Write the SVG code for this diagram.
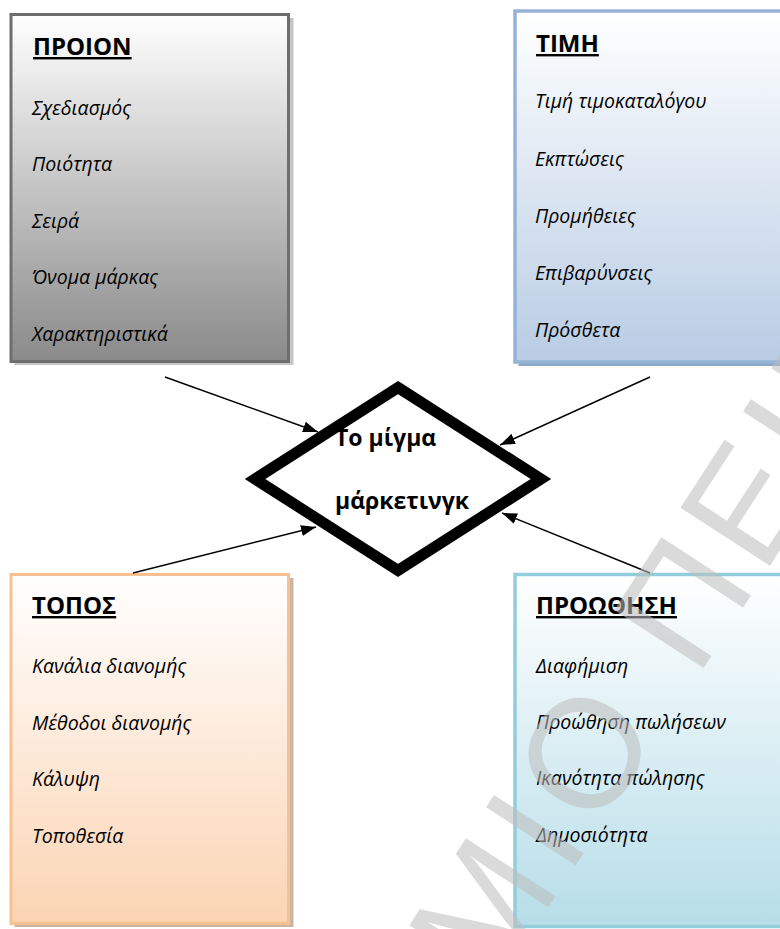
<svg xmlns="http://www.w3.org/2000/svg" width="780" height="929" viewBox="0 0 780 929">
  <style>
    .title { font-family: "Open Sans", "Noto Sans", sans-serif; font-weight: 700; font-size: 24px; text-decoration: underline; fill: #000; }
    .item { font-family: "Open Sans", "Noto Sans", sans-serif; font-style: italic; font-size: 19.5px; fill: #000; }
    .hub { font-family: "Open Sans", "Noto Sans", sans-serif; font-weight: 700; font-size: 23px; fill: #000; }
    .conn { stroke: #000; stroke-width: 1.4; fill: none; marker-end: url(#arrow); }
    .mark { font-family: "Liberation Sans", Arial, sans-serif; font-size: 155px; letter-spacing: 10px; fill: #bdbdbd; opacity: 0.55; }
  </style>
  <defs>
    <linearGradient id="gGray" x1="0" y1="0" x2="0" y2="1">
      <stop offset="0" stop-color="#ffffff"/>
      <stop offset="1" stop-color="#8a8a8a"/>
    </linearGradient>
    <linearGradient id="gBlue" x1="0" y1="0" x2="0" y2="1">
      <stop offset="0" stop-color="#ffffff"/>
      <stop offset="1" stop-color="#b8cce4"/>
    </linearGradient>
    <linearGradient id="gPeach" x1="0" y1="0" x2="0" y2="1">
      <stop offset="0" stop-color="#ffffff"/>
      <stop offset="1" stop-color="#fbd4b3"/>
    </linearGradient>
    <linearGradient id="gAqua" x1="0" y1="0" x2="0" y2="1">
      <stop offset="0" stop-color="#ffffff"/>
      <stop offset="1" stop-color="#b6dde8"/>
    </linearGradient>
    <marker id="arrow" markerUnits="userSpaceOnUse" markerWidth="15" markerHeight="11" refX="15" refY="5.5" orient="auto">
      <path d="M0,0 L15,5.5 L0,11 z" fill="#000"/>
    </marker>
  </defs>

  <!-- Product -->
  <g id="product">
    <rect x="14.5" y="18" width="279" height="347" fill="#c6c6c6"/>
    <rect x="11" y="14.5" width="277.5" height="347" fill="url(#gGray)" stroke="#6e6e6e" stroke-width="3"/>
    <text class="title" x="33" y="55">ΠΡΟΙΟΝ</text>
    <text class="item" x="32" y="115">Σχεδιασμός</text>
    <text class="item" x="32" y="171">Ποιότητα</text>
    <text class="item" x="32" y="228">Σειρά</text>
    <text class="item" x="32" y="284">Όνομα μάρκας</text>
    <text class="item" x="32" y="341">Χαρακτηριστικά</text>
  </g>

  <!-- Price -->
  <g id="price">
    <rect x="518.5" y="15" width="300" height="351" fill="#8da7c6"/>
    <rect x="515" y="11" width="300" height="351" fill="url(#gBlue)" stroke="#95b3d7" stroke-width="3.5"/>
    <text class="title" x="536" y="52">ΤΙΜΗ</text>
    <text class="item" x="535" y="108">Τιμή τιμοκαταλόγου</text>
    <text class="item" x="535" y="166">Εκπτώσεις</text>
    <text class="item" x="535" y="223">Προμήθειες</text>
    <text class="item" x="535" y="280">Επιβαρύνσεις</text>
    <text class="item" x="535" y="337">Πρόσθετα</text>
  </g>

  <!-- Place -->
  <g id="place">
    <rect x="14.5" y="578" width="279" height="349" fill="#c9b5a3"/>
    <rect x="11" y="574.5" width="277.5" height="349" fill="url(#gPeach)" stroke="#fac08f" stroke-width="3"/>
    <text class="title" x="32" y="614">ΤΟΠΟΣ</text>
    <text class="item" x="32" y="673">Κανάλια διανομής</text>
    <text class="item" x="32" y="730">Μέθοδοι διανομής</text>
    <text class="item" x="32" y="786">Κάλυψη</text>
    <text class="item" x="32" y="843">Τοποθεσία</text>
  </g>

  <!-- Promotion -->
  <g id="promotion">
    <rect x="515" y="574.5" width="300" height="352" fill="url(#gAqua)" stroke="#92cddc" stroke-width="3.5"/>
    <text class="title" x="536" y="614">ΠΡΟΩΘΗΣΗ</text>
    <text class="item" x="536" y="673">Διαφήμιση</text>
    <text class="item" x="536" y="729">Προώθηση πωλήσεων</text>
    <text class="item" x="536" y="785">Ικανότητα πώλησης</text>
    <text class="item" x="536" y="842">Δημοσιότητα</text>
  </g>

  <!-- Marketing mix hub -->
  <g id="mix">
    <polygon points="398,387.5 541,479 398,570.5 255,479" fill="#fff" stroke="#000" stroke-width="11" stroke-linejoin="miter"/>
    <text class="hub" x="335" y="446">Το μίγμα</text>
    <text class="hub" x="335" y="509">μάρκετινγκ</text>
  </g>

  <!-- Connectors -->
  <g id="connectors">
    <line class="conn" x1="165" y1="377" x2="318" y2="432"/>
    <line class="conn" x1="650" y1="377" x2="500" y2="445"/>
    <line class="conn" x1="133" y1="573" x2="316" y2="527"/>
    <line class="conn" x1="650" y1="573" x2="502" y2="513"/>
  </g>

  <!-- Diagonal watermark -->
  <text class="mark" transform="translate(492,994) rotate(-57)">ΜΙΟ ΠΕΙΡ</text>
</svg>
